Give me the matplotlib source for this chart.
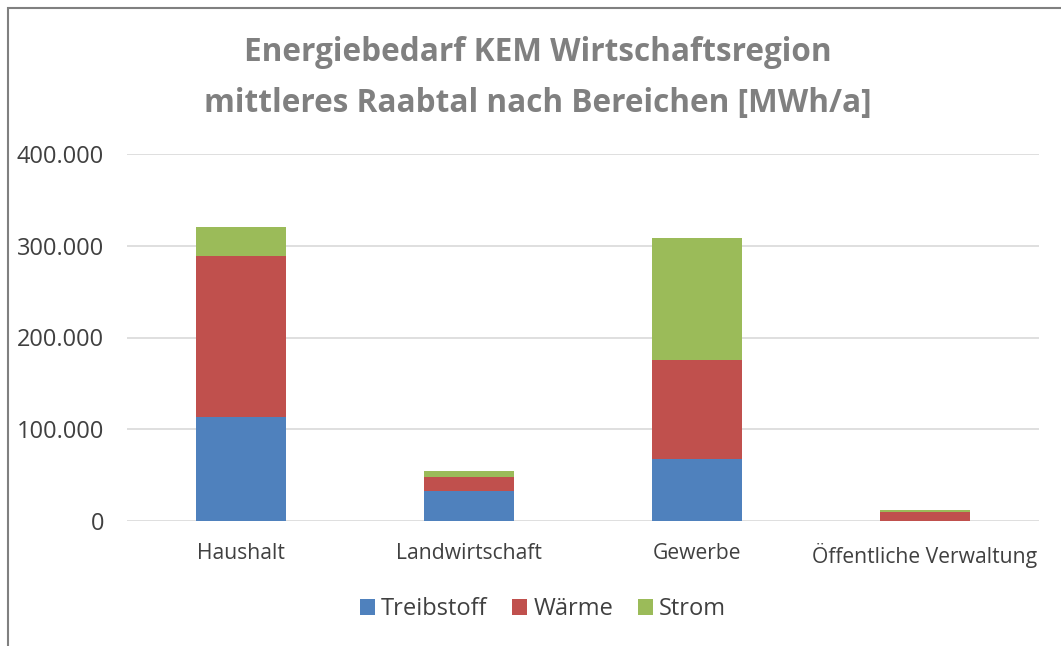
import numpy as np
import matplotlib
matplotlib.use("Agg")
import matplotlib.pyplot as plt
from matplotlib.patches import Rectangle
from matplotlib.ticker import FuncFormatter

# Werte in MWh/a
bereiche = ["Haushalt", "Landwirtschaft", "Gewerbe", "Öffentliche Verwaltung"]
treibstoff = [113400, 32400, 67600, 300]
waerme = [175400, 15600, 107900, 9200]
strom = [31600, 6200, 132900, 2500]

serien = ["Treibstoff", "Wärme", "Strom"]
farben = ["#4F81BD", "#C0504D", "#9BBB59"]

plt.rcParams['font.family'] = ['Open Sans', 'DejaVu Sans']

W, H = 1061, 646
fig = plt.figure(figsize=(W / 100, H / 100), dpi=100)

# Rahmen (rechts und unten abgeschnitten)
fig.patches.append(Rectangle((8 / W, -0.5), 2, 0.5 + (H - 8) / H,
                             transform=fig.transFigure, fill=False,
                             edgecolor="#808080", linewidth=1.5))

ax = fig.add_axes([127 / W, 125 / H, (1039 - 127) / W, (521 - 154) / H])

x = np.arange(len(bereiche))
breite = 0.395
unten = np.zeros(len(bereiche))
for werte, name, farbe in zip([treibstoff, waerme, strom], serien, farben):
    ax.bar(x, werte, breite, bottom=unten, color=farbe, label=name, zorder=3)
    unten += np.array(werte)

ax.set_xlim(-0.5, len(bereiche) - 0.5)
ax.set_ylim(0, 400000)
ax.set_yticks(np.arange(0, 400001, 100000))
ax.yaxis.set_major_formatter(FuncFormatter(lambda v, p: f"{int(v):,}".replace(",", ".")))
ax.grid(axis="y", color="#D9D9D9", linewidth=1.2, zorder=0)
for s in ax.spines.values():
    s.set_visible(False)
ax.tick_params(axis="both", length=0, labelcolor="#404040")
ax.tick_params(axis="y", pad=16.5, labelsize=17)
ax.tick_params(axis="x", pad=16, labelsize=15.2)
ax.set_xticks(x)
ax.set_xticklabels(bereiche)

fig.text(538 / W, 1 - 78 / H, "Energiebedarf KEM Wirtschaftsregion\nmittleres Raabtal nach Bereichen [MWh/a]",
         ha="center", va="center", fontsize=22.7, fontweight="bold", color="#808080",
         linespacing=1.7)

fig.legend(loc="center", bbox_to_anchor=(543 / W, 1 - 609 / H), ncol=3, frameon=False,
           fontsize=17, handlelength=0.64, handleheight=0.64, handletextpad=0.25,
           columnspacing=1.05, labelcolor="#404040")

fig.savefig("out.png", dpi=100)
